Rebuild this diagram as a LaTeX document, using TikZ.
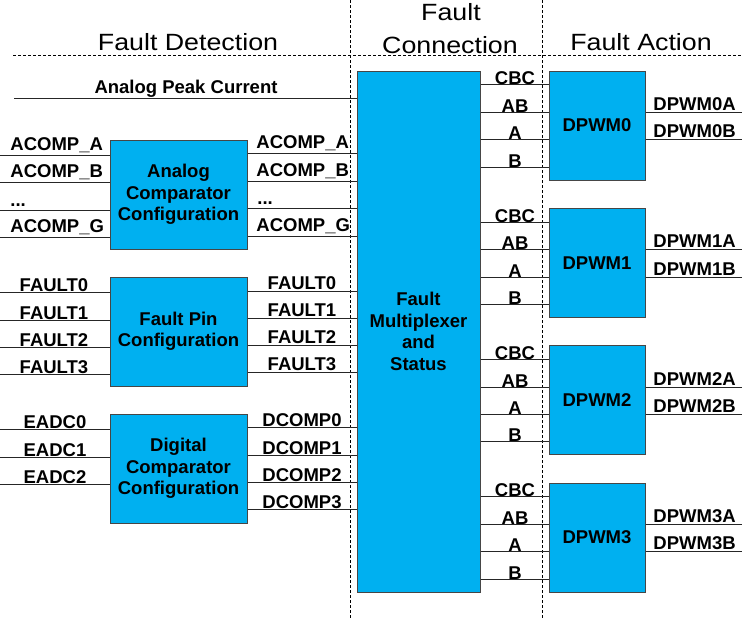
\documentclass[tikz,border=0pt]{standalone}
\usepackage{fontspec}
\setmainfont{Liberation Sans}
\newfontfamily\widesans[FakeStretch=1.14]{Liberation Sans}
\definecolor{c}{RGB}{0,176,240}
\definecolor{e}{RGB}{70,70,70}
\begin{document}
\begin{tikzpicture}[x=1pt,y=-1pt,line width=.9pt,draw=black!85,
 every node/.style={font=\bfseries\fontsize{18.5}{21.5}\selectfont,inner sep=0pt},
 blk/.style={draw=e,fill=c,line width=1pt,align=center,minimum height=109},
 hd/.style={font=\widesans\fontsize{23.5}{26}\selectfont,anchor=base},
 lw/.style={anchor=base west},lc/.style={anchor=base},
 sep/.style={draw=black,dash pattern=on 3pt off 2pt,line width=1pt}]
\useasboundingbox (0,0) rectangle (742,619);
% headings and separators
\node[hd] (hdet) at (188,50){Fault Detection};\node[hd] (hcon1) at (451,20){Fault};\node[hd] (hcon2) at (450,53){Connection};\node[hd] (hact) at (641,50){Fault Action};
\coordinate (s1) at (13,55);\coordinate (s2) at (742,55);\draw[sep] (s1)--(s2);
\coordinate (v1) at (350,0);\coordinate (v2) at (350,619);\draw[sep] (v1)--(v2);
\coordinate (v3) at (542,0);\coordinate (v4) at (542,619);\draw[sep] (v3)--(v4);
% blocks
\node[blk,minimum width=137] (acmp) at (178.5,194.5){Analog\\Comparator\\Configuration};
\node[blk,minimum width=137] (fpin) at (178.5,331.5){Fault Pin\\Configuration};
\node[blk,minimum width=137] (dcmp) at (178.5,468.5){Digital\\Comparator\\Configuration};
\node[blk,minimum width=123,minimum height=521] (mux) at (418.5,331.5){Fault\\Multiplexer\\and\\Status};
\node[blk,minimum width=96] (pw0) at (597,125.5){DPWM0};\node[blk,minimum width=96] (pw1) at (597,263){DPWM1};
\node[blk,minimum width=96] (pw2) at (597,400){DPWM2};\node[blk,minimum width=96] (pw3) at (597,537.5){DPWM3};
% analog peak current
\coordinate (apc) at (14,98);\draw (apc)--(apc -| mux.west);\node[lc] (lapc) at (186,93){Analog Peak Current};
% analog comparator
\coordinate (ia0) at (0,155);\coordinate (ia1) at (0,182);\coordinate (ia2) at (0,210);\coordinate (ia3) at (0,237);
\draw (ia0)--(ia0 -| acmp.west);\draw (ia1)--(ia1 -| acmp.west);\draw (ia2)--(ia2 -| acmp.west);\draw (ia3)--(ia3 -| acmp.west);
\node[lw] (lia0) at (10,150){ACOMP\_A};\node[lw] (lia1) at (10,177){ACOMP\_B};\node[lw] (lia2) at (10,206){...};\node[lw] (lia3) at (10,232){ACOMP\_G};
\coordinate (oa0) at (300,153);\coordinate (oa1) at (300,181);\coordinate (oa2) at (300,208);\coordinate (oa3) at (300,236);
\draw (oa0 -| acmp.east)--(oa0 -| mux.west);\draw (oa1 -| acmp.east)--(oa1 -| mux.west);\draw (oa2 -| acmp.east)--(oa2 -| mux.west);\draw (oa3 -| acmp.east)--(oa3 -| mux.west);
\node[lw] (loa0) at (256,148){ACOMP\_A};\node[lw] (loa1) at (256,176){ACOMP\_B};\node[lw] (loa2) at (257,204){...};\node[lw] (loa3) at (256,231){ACOMP\_G};
% fault pins
\coordinate (if0) at (0,292);\coordinate (if1) at (0,320);\coordinate (if2) at (0,347);\coordinate (if3) at (0,374);
\draw (if0)--(if0 -| fpin.west);\draw (if1)--(if1 -| fpin.west);\draw (if2)--(if2 -| fpin.west);\draw (if3)--(if3 -| fpin.west);
\node[lc] (lif0) at (54,291){FAULT0};\node[lc] (lif1) at (54,319){FAULT1};\node[lc] (lif2) at (54,346){FAULT2};\node[lc] (lif3) at (54,373){FAULT3};
\coordinate (of0) at (300,291);\coordinate (of1) at (300,318);\coordinate (of2) at (300,345);\coordinate (of3) at (300,372);
\draw (of0 -| fpin.east)--(of0 -| mux.west);\draw (of1 -| fpin.east)--(of1 -| mux.west);\draw (of2 -| fpin.east)--(of2 -| mux.west);\draw (of3 -| fpin.east)--(of3 -| mux.west);
\node[lc] (lof0) at (302,289.5){FAULT0};\node[lc] (lof1) at (302,316.5){FAULT1};\node[lc] (lof2) at (302,343.5){FAULT2};\node[lc] (lof3) at (302,370.5){FAULT3};
% digital comparator
\coordinate (ie0) at (0,429);\coordinate (ie1) at (0,457);\coordinate (ie2) at (0,484);
\draw (ie0)--(ie0 -| dcmp.west);\draw (ie1)--(ie1 -| dcmp.west);\draw (ie2)--(ie2 -| dcmp.west);
\node[lc] (lie0) at (55,428){EADC0};\node[lc] (lie1) at (55,456){EADC1};\node[lc] (lie2) at (55,483){EADC2};
\coordinate (od0) at (300,427);\coordinate (od1) at (300,455);\coordinate (od2) at (300,482);\coordinate (od3) at (300,509);
\draw (od0 -| dcmp.east)--(od0 -| mux.west);\draw (od1 -| dcmp.east)--(od1 -| mux.west);\draw (od2 -| dcmp.east)--(od2 -| mux.west);\draw (od3 -| dcmp.east)--(od3 -| mux.west);
\node[lc] (lod0) at (302,426){DCOMP0};\node[lc] (lod1) at (302,454){DCOMP1};\node[lc] (lod2) at (302,481){DCOMP2};\node[lc] (lod3) at (302,508){DCOMP3};
% mux to DPWM0
\coordinate (k0a) at (515,84.5);\coordinate (k0b) at (515,112);\coordinate (k0c) at (515,139.5);\coordinate (k0d) at (515,167);
\draw (k0a -| mux.east)--(k0a -| pw0.west);\draw (k0b -| mux.east)--(k0b -| pw0.west);\draw (k0c -| mux.east)--(k0c -| pw0.west);\draw (k0d -| mux.east)--(k0d -| pw0.west);
\node[lc] (lk0a) at (k0a){CBC};\node[lc] (lk0b) at (k0b){AB};\node[lc] (lk0c) at (k0c){A};\node[lc] (lk0d) at (k0d){B};
% mux to DPWM1
\coordinate (k1a) at (515,222);\coordinate (k1b) at (515,249);\coordinate (k1c) at (515,277);\coordinate (k1d) at (515,304);
\draw (k1a -| mux.east)--(k1a -| pw1.west);\draw (k1b -| mux.east)--(k1b -| pw1.west);\draw (k1c -| mux.east)--(k1c -| pw1.west);\draw (k1d -| mux.east)--(k1d -| pw1.west);
\node[lc] (lk1a) at (k1a){CBC};\node[lc] (lk1b) at (k1b){AB};\node[lc] (lk1c) at (k1c){A};\node[lc] (lk1d) at (k1d){B};
% mux to DPWM2
\coordinate (k2a) at (515,359);\coordinate (k2b) at (515,387);\coordinate (k2c) at (515,414);\coordinate (k2d) at (515,441);
\draw (k2a -| mux.east)--(k2a -| pw2.west);\draw (k2b -| mux.east)--(k2b -| pw2.west);\draw (k2c -| mux.east)--(k2c -| pw2.west);\draw (k2d -| mux.east)--(k2d -| pw2.west);
\node[lc] (lk2a) at (k2a){CBC};\node[lc] (lk2b) at (k2b){AB};\node[lc] (lk2c) at (k2c){A};\node[lc] (lk2d) at (k2d){B};
% mux to DPWM3
\coordinate (k3a) at (515,496.5);\coordinate (k3b) at (515,524);\coordinate (k3c) at (515,551.5);\coordinate (k3d) at (515,579);
\draw (k3a -| mux.east)--(k3a -| pw3.west);\draw (k3b -| mux.east)--(k3b -| pw3.west);\draw (k3c -| mux.east)--(k3c -| pw3.west);\draw (k3d -| mux.east)--(k3d -| pw3.west);
\node[lc] (lk3a) at (k3a){CBC};\node[lc] (lk3b) at (k3b){AB};\node[lc] (lk3c) at (k3c){A};\node[lc] (lk3d) at (k3d){B};
% DPWM outputs
\coordinate (q0a) at (742,112);\coordinate (q0b) at (742,139.5);\draw (pw0.east |- q0a)--(q0a);\draw (pw0.east |- q0b)--(q0b);
\coordinate (q1a) at (742,249);\coordinate (q1b) at (742,277);\draw (pw1.east |- q1a)--(q1a);\draw (pw1.east |- q1b)--(q1b);
\coordinate (q2a) at (742,387);\coordinate (q2b) at (742,414);\draw (pw2.east |- q2a)--(q2a);\draw (pw2.east |- q2b)--(q2b);
\coordinate (q3a) at (742,524);\coordinate (q3b) at (742,551.5);\draw (pw3.east |- q3a)--(q3a);\draw (pw3.east |- q3b)--(q3b);
\node[lw] (lq0a) at (653,110){DPWM0A};\node[lw] (lq0b) at (653,137.5){DPWM0B};\node[lw] (lq1a) at (653,247){DPWM1A};\node[lw] (lq1b) at (653,275){DPWM1B};
\node[lw] (lq2a) at (653,385){DPWM2A};\node[lw] (lq2b) at (653,412){DPWM2B};\node[lw] (lq3a) at (653,522){DPWM3A};\node[lw] (lq3b) at (653,549.5){DPWM3B};
\end{tikzpicture}
\end{document}
